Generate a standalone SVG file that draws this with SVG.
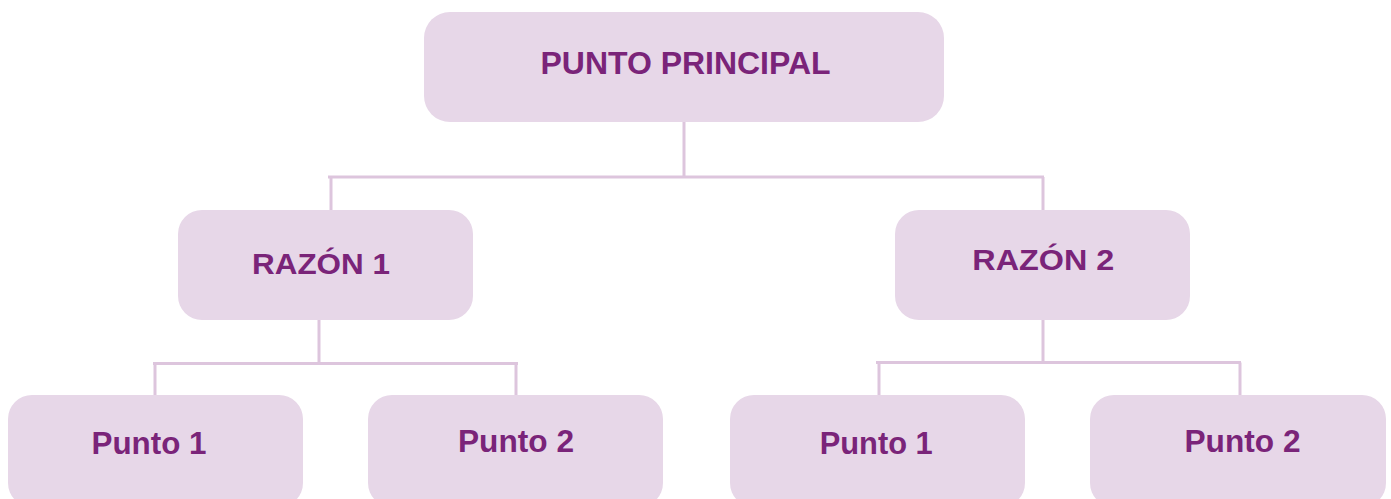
<svg xmlns="http://www.w3.org/2000/svg" width="1391" height="499" viewBox="0 0 1391 499">
<style>
.node{fill:#e7d7e8;}
.lbl{font-family:"Liberation Sans",Arial,sans-serif;font-weight:bold;fill:#7a2479;text-anchor:middle;}
.conn{stroke:#ddc5dd;stroke-width:3;fill:none;}
</style>
<rect width="1391" height="499" fill="#ffffff"/>
<g id="connectors">
<path class="conn" d="M684 122V177M328 177H1044M331 177V210M1043 177V210"/>
<path class="conn" d="M319 320V363.5M153 363.5H518M155 363.5V395M516 363.5V395"/>
<path class="conn" d="M1043 320V362.5M876 362.5H1241M879 362.5V395M1240 362.5V395"/>
</g>
<g id="punto-principal">
<rect class="node" x="424" y="12" width="520" height="110" rx="26"/>
<text class="lbl" x="685.5" y="74" font-size="31" textLength="290" lengthAdjust="spacingAndGlyphs">PUNTO PRINCIPAL</text>
</g>
<g id="razon-1">
<rect class="node" x="178" y="210" width="295" height="110" rx="24"/>
<text class="lbl" x="321" y="274" font-size="29" textLength="138" lengthAdjust="spacingAndGlyphs">RAZÓN 1</text>
</g>
<g id="razon-2">
<rect class="node" x="895" y="210" width="295" height="110" rx="24"/>
<text class="lbl" x="1043.3" y="270" font-size="29" textLength="142" lengthAdjust="spacingAndGlyphs">RAZÓN 2</text>
</g>
<g id="punto-1-a">
<rect class="node" x="8" y="395" width="295" height="112" rx="24"/>
<text class="lbl" x="149" y="454" font-size="31" textLength="115" lengthAdjust="spacingAndGlyphs">Punto 1</text>
</g>
<g id="punto-2-a">
<rect class="node" x="368" y="395" width="295" height="112" rx="24"/>
<text class="lbl" x="516" y="451.5" font-size="31" textLength="116" lengthAdjust="spacingAndGlyphs">Punto 2</text>
</g>
<g id="punto-1-b">
<rect class="node" x="730" y="395" width="295" height="112" rx="24"/>
<text class="lbl" x="876.2" y="454" font-size="31" textLength="113" lengthAdjust="spacingAndGlyphs">Punto 1</text>
</g>
<g id="punto-2-b">
<rect class="node" x="1090" y="395" width="296" height="112" rx="24"/>
<text class="lbl" x="1242.5" y="452" font-size="31" textLength="116" lengthAdjust="spacingAndGlyphs">Punto 2</text>
</g>
</svg>
